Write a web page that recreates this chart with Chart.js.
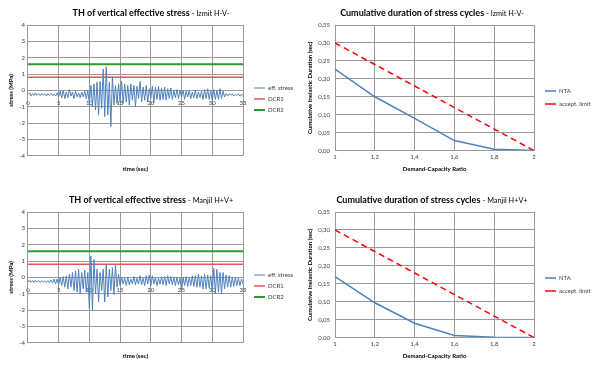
<!DOCTYPE html>
<html>
<head>
<meta charset="utf-8">
<title>Stress charts</title>
<script src="https://cdn.jsdelivr.net/npm/chart.js@4.4.0/dist/chart.umd.min.js"></script>
<style>
  body { margin: 0; background: #fff; font-family: Lato, 'Open Sans', sans-serif; }
  .panel { position: absolute; width: 300px; height: 180px; }
  .panel canvas { position: absolute; left: 0; top: 0; }
  .title { position: absolute; top: 7px; line-height: 12px; text-align: center; white-space: nowrap; font-size: 9px; font-weight: bold; color: #000; }
  .title span { font-size: 7.3px; font-weight: normal; }
</style>
</head>
<body>

<div class="panel" style="left:0; top:0;">
  <canvas id="stressIzmit" width="300" height="180"></canvas>
  <div class="title" style="left:0; width:302px;">TH of vertical effective stress <span>- Izmit H-V-</span></div>
</div>
<div class="panel" style="left:300px; top:0;">
  <canvas id="durationIzmit" width="300" height="180"></canvas>
  <div class="title" style="left:0; width:264px;">Cumulative duration of stress cycles <span>- Izmit H-V-</span></div>
</div>
<div class="panel" style="left:0; top:187px;">
  <canvas id="stressManjil" width="300" height="180"></canvas>
  <div class="title" style="left:0; width:302px;">TH of vertical effective stress <span>- Manjil H+V+</span></div>
</div>
<div class="panel" style="left:300px; top:187px;">
  <canvas id="durationManjil" width="300" height="180"></canvas>
  <div class="title" style="left:0; width:264px;">Cumulative duration of stress cycles <span>- Manjil H+V+</span></div>
</div>

<script>
// sampling of the stress records (sec)
const timeStep = 0.25;

// vertical effective stress (MPa), one value per timeStep, 0..35 sec
const izmitStress = [
  -0.25, -0.15, -0.35, -0.2,   -0.3, -0.15, -0.3, -0.2,    -0.32, -0.18, -0.3, -0.2,
  -0.35, -0.2, -0.3, -0.18,    -0.32, -0.22, -0.35, -0.15, -0.4, -0.05, -0.45, 0.0,
  -0.5, -0.1, -0.45, 0.05,     -0.35, -0.1, -0.5, -0.05,   -0.4, -0.15, -0.45, -0.1,
  -0.4, -0.05, -0.5, 0.0,      -0.8, 0.3, -1.0, 0.4,       -1.2, 0.5, -1.5, 0.55,
  -1.1, 1.3, -1.6, 1.45,       -1.5, 0.5, -2.2, 0.85,      -0.9, 0.3, -0.8, 0.4,
  -0.7, 0.55, -0.8, 0.4,       -0.7, 0.3, -0.9, 0.4,       -0.6, 0.3, -1.0, 0.25,
  -0.5, 0.55, -0.7, 0.2,       -0.6, 0.3, -0.7, 0.1,       -0.5, 0.25, -0.75, 0.2,
  -0.55, 0.25, -0.6, 0.15,     -0.55, 0.2, -0.6, 0.1,      -0.5, 0.15, -0.55, 0.0,
  -0.45, 0.05, -0.5, 0.0,      -0.4, 0.0, -0.55, -0.05,    -0.4, 0.0, -0.5, -0.1,
  -0.45, 0.0, -0.5, -0.1,      -0.45, -0.05, -0.55, 0.05,  -0.5, 0.1, -0.55, 0.0,
  -0.6, 0.05, -0.55, 0.0,      -0.55, 0.1, -0.5, -0.05,    -0.4, -0.2, -0.35, -0.2,
  -0.3, -0.22, -0.35, -0.25,   -0.3, -0.22, -0.35, -0.25,  -0.3
];
const manjilStress = [
  -0.3, -0.15, -0.3, -0.2,     -0.3, -0.18, -0.28, -0.2,   -0.3, -0.2, -0.3, -0.22,
  -0.3, -0.2, -0.32, -0.15,    -0.35, -0.1, -0.4, -0.1,    -0.45, 0.0, -0.5, 0.05,
  -0.6, 0.1, -0.7, 0.2,        -0.6, 0.3, -0.8, 0.4,       -0.9, 0.5, -1.0, 0.3,
  -0.7, 0.45, -0.9, 0.3,       -1.9, 1.3, -2.0, 1.1,       -1.0, 0.5, -1.5, 0.3,
  -0.8, 0.5, -1.5, 0.8,        -1.2, 0.5, -0.8, 0.6,       -1.05, 0.75, -0.6, 0.2,
  -0.5, 0.0, -0.4, -0.05,      -0.5, 0.0, -0.45, -0.1,     -0.4, 0.05, -0.45, -0.05,
  -0.4, 0.1, -0.45, -0.05,     -0.5, 0.1, -0.4, 0.15,      -0.5, 0.1, -0.4, 0.0,
  -0.5, -0.05, -0.4, 0.05,     -0.45, 0.05, -0.5, 0.1,     -0.4, 0.05, -0.45, 0.0,
  -0.5, 0.0, -0.45, -0.05,     -0.8, 0.0, -0.5, 0.05,      -0.55, 0.0, -0.5, 0.1,
  -0.55, 0.1, -0.6, 0.2,       -0.6, 0.1, -0.7, 0.2,       -0.7, 0.15, -0.65, 0.1,
  -0.9, 0.55, -1.0, 0.5,       -0.9, 0.3, -1.0, 0.3,       -0.7, 0.15, -0.6, 0.1,
  -0.6, 0.0, -0.55, 0.0,       -0.5, -0.05, -0.5, -0.1,    -0.4
];

// demand-capacity ratio thresholds (MPa)
const dcr1Level = 0.8;
const dcr2Level = 1.6;
const timeRange = [0, 35];

// cumulative inelastic duration (sec) vs demand-capacity ratio
const dcRatio = [1, 1.2, 1.4, 1.6, 1.8, 2];
const izmitNTA = [0.227, 0.15, 0.09, 0.028, 0.004, 0.0];
const manjilNTA = [0.17, 0.097, 0.04, 0.006, 0.001, 0.0];
const acceptLimit = [0.30, 0.24, 0.18, 0.12, 0.06, 0.0];

Chart.defaults.font.family = "Lato, 'Open Sans', sans-serif";
Chart.defaults.color = '#404040';
Chart.defaults.animation = false;

const gridColor = '#9a9a9a';
const tickFont = { size: 6 };
const axisTitleFont = { size: 6, weight: 'bold' };

// puts the legend at a fixed spot next to the plot
function legendAt(x, y) {
    return {
        id: 'legendAt',
        afterLayout(chart) {
            const lg = chart.legend;
            const pad = lg.options.labels.padding;
            lg.left = x - pad;
            lg.top = y - pad - 3;
            lg.right = lg.left + lg.width;
            lg.bottom = lg.top + lg.height;
        }
    };
}

function legendOptions(pad) {
    return {
        position: 'chartArea',
        align: 'start',
        labels: {
            usePointStyle: true,
            pointStyle: 'line',
            pointStyleWidth: 11,
            padding: pad,
            color: '#404040',
            font: { size: 6 }
        }
    };
}

function makeStressChart(canvasId, stress) {
    const points = stress.map((v, i) => ({ x: i * timeStep, y: v }));
    const ctx = document.getElementById(canvasId).getContext('2d');
    return new Chart(ctx, {
        type: 'line',
        data: {
            datasets: [{
                label: 'eff. stress',
                data: points,
                borderColor: '#4F81BD',
                backgroundColor: '#4F81BD',
                borderWidth: 1,
                pointRadius: 0
            }, {
                label: 'DCR1',
                data: [{ x: timeRange[0], y: dcr1Level }, { x: timeRange[1], y: dcr1Level }],
                borderColor: '#DC5A55',
                backgroundColor: '#DC5A55',
                borderWidth: 1.5,
                pointRadius: 0
            }, {
                label: 'DCR2',
                data: [{ x: timeRange[0], y: dcr2Level }, { x: timeRange[1], y: dcr2Level }],
                borderColor: '#2E9B2E',
                backgroundColor: '#2E9B2E',
                borderWidth: 2,
                pointRadius: 0
            }]
        },
        options: {
            responsive: false,
            layout: { padding: { top: 25, right: 57, bottom: 7, left: 7 } },
            plugins: {
                legend: legendOptions(5),
                tooltip: { enabled: false }
            },
            scales: {
                // gridlines under the data
                x: {
                    type: 'linear',
                    min: timeRange[0],
                    max: timeRange[1],
                    position: { y: 0 },
                    ticks: { stepSize: 5, display: false },
                    grid: { color: gridColor, drawTicks: false },
                    border: { color: gridColor }
                },
                // tick labels on the zero line, drawn over the data like Excel
                xLabels: {
                    type: 'linear',
                    min: timeRange[0],
                    max: timeRange[1],
                    position: { y: 0 },
                    z: 1,
                    ticks: { stepSize: 5, font: tickFont, padding: 1 },
                    grid: { display: false },
                    border: { display: false }
                },
                xTitle: {
                    type: 'linear',
                    position: 'bottom',
                    min: timeRange[0],
                    max: timeRange[1],
                    ticks: { display: false },
                    grid: { display: false },
                    border: { display: false },
                    title: { display: true, text: 'time (sec)', font: axisTitleFont, color: '#000', padding: { top: 2, bottom: 0 } }
                },
                y: {
                    min: -4,
                    max: 4,
                    ticks: { stepSize: 1, font: tickFont, padding: 3 },
                    grid: { color: gridColor, drawTicks: false },
                    border: { color: gridColor },
                    title: { display: true, text: 'stress (MPa)', font: axisTitleFont, color: '#000', padding: { top: 0, bottom: 2 } }
                }
            }
        },
        plugins: [legendAt(254, 88)]
    });
}

function fmtComma(v, digits) {
    return Number(v.toFixed(digits)).toString().replace('.', ',');
}

function makeDurationChart(canvasId, nta) {
    const ctx = document.getElementById(canvasId).getContext('2d');
    return new Chart(ctx, {
        type: 'line',
        data: {
            datasets: [{
                label: 'NTA',
                data: dcRatio.map((r, i) => ({ x: r, y: nta[i] })),
                borderColor: '#4F81BD',
                backgroundColor: '#4F81BD',
                borderWidth: 1.5,
                pointRadius: 0
            }, {
                label: 'accept. limit',
                data: dcRatio.map((r, i) => ({ x: r, y: acceptLimit[i] })),
                borderColor: '#FF0000',
                backgroundColor: '#FF0000',
                borderWidth: 1.5,
                borderDash: [6, 4],
                pointRadius: 0
            }]
        },
        options: {
            responsive: false,
            layout: { padding: { top: 25, right: 66, bottom: 7, left: 6 } },
            plugins: {
                legend: legendOptions(7),
                tooltip: { enabled: false }
            },
            scales: {
                x: {
                    type: 'linear',
                    min: 1,
                    max: 2,
                    ticks: { stepSize: 0.2, font: tickFont, padding: 3, callback: v => fmtComma(v, 1) },
                    grid: { color: gridColor, drawTicks: false },
                    border: { color: gridColor },
                    title: { display: true, text: 'Demand-Capacity Ratio', font: axisTitleFont, color: '#000', padding: { top: 2, bottom: 0 } }
                },
                y: {
                    min: 0,
                    max: 0.35,
                    ticks: { stepSize: 0.05, font: tickFont, padding: 5, callback: v => v.toFixed(2).replace('.', ',') },
                    grid: { color: gridColor, drawTicks: false },
                    border: { color: gridColor },
                    title: { display: true, text: 'Cumulative Inelastic Duration (sec)', font: axisTitleFont, color: '#000', padding: { top: 0, bottom: 0 } }
                }
            }
        },
        plugins: [legendAt(245, 91)]
    });
}

makeStressChart('stressIzmit', izmitStress);
makeDurationChart('durationIzmit', izmitNTA);
makeStressChart('stressManjil', manjilStress);
makeDurationChart('durationManjil', manjilNTA);
</script>
</body>
</html>
